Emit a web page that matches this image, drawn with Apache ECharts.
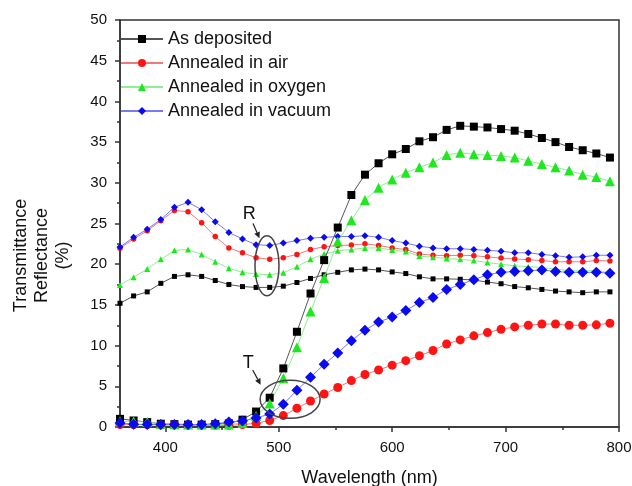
<!DOCTYPE html>
<html>
<head>
<meta charset="utf-8">
<script src="https://cdn.jsdelivr.net/npm/echarts@6/dist/echarts.min.js"></script>
<style>
  html, body { margin: 0; padding: 0; background: #fff; }
  #chart { width: 632px; height: 486px; }
</style>
</head>
<body>
<div id="chart"></div>
<script>
// wavelength (nm), one point every 12 nm
const wavelengths = [360, 372, 384, 396, 408, 420, 432, 444, 456, 468, 480, 492, 504, 516, 528, 540, 552, 564, 576,
  588, 600, 612, 624, 636, 648, 660, 672, 684, 696, 708, 720, 732, 744, 756, 768, 780, 792]

const seriesNames = ['As deposited', 'Annealed in air', 'Annealed in oxygen', 'Annealed in vacuum']

// transmittance (%)
const tDeposited = [1.0, 0.8, 0.6, 0.4, 0.35, 0.3, 0.3, 0.35, 0.45, 0.9, 1.9, 3.6, 7.2, 11.7, 16.4, 20.5, 24.5, 28.5, 31.0,
  32.4, 33.5, 34.15, 35.1, 35.6, 36.5, 37.0, 36.9, 36.8, 36.6, 36.4, 36.0, 35.5, 35.0, 34.4, 34.0, 33.6, 33.1]
const tAir = [0.3, 0.3, 0.3, 0.25, 0.25, 0.2, 0.2, 0.2, 0.2, 0.3, 0.45, 0.8, 1.4, 2.3, 3.2, 4.05, 4.85, 5.7, 6.45,
  7.0, 7.6, 8.15, 8.75, 9.4, 10.2, 10.7, 11.2, 11.6, 12.0, 12.3, 12.5, 12.65, 12.65, 12.5, 12.5, 12.55, 12.75]
const tOxygen = [0.7, 0.7, 0.6, 0.4, 0.35, 0.3, 0.3, 0.3, 0.3, 0.5, 1.35, 2.9, 6.0, 9.8, 14.2, 18.3, 22.8, 25.4, 27.9,
  29.4, 30.4, 31.25, 31.9, 32.5, 33.4, 33.7, 33.5, 33.4, 33.3, 33.1, 32.7, 32.3, 31.9, 31.5, 31.0, 30.7, 30.2]
const tVacuum = [0.5, 0.35, 0.3, 0.3, 0.3, 0.3, 0.3, 0.4, 0.6, 0.75, 1.1, 1.6, 2.8, 4.5, 6.1, 7.7, 9.1, 10.6, 11.9,
  12.9, 13.5, 14.3, 15.3, 15.9, 16.9, 17.5, 18.1, 18.7, 19.0, 19.1, 19.2, 19.3, 19.1, 19.0, 19.0, 19.0, 18.9]

// reflectance (%)
const rDeposited = [15.2, 16.1, 16.6, 17.65, 18.5, 18.7, 18.5, 18.0, 17.5, 17.25, 17.15, 17.15, 17.3, 17.75, 18.25, 18.7, 19.0, 19.3,
  19.4, 19.3, 19.05, 18.85, 18.45, 18.2, 18.2, 18.15, 18.05, 17.8, 17.6, 17.25, 17.1, 16.9, 16.7, 16.6, 16.5, 16.6, 16.6]
const rAir = [21.95, 23.1, 24.1, 25.35, 26.6, 26.45, 25.1, 23.4, 22.0, 21.4, 20.8, 20.6, 20.8, 21.2, 21.8, 22.15, 22.3, 22.35,
  22.5, 22.3, 22.0, 21.8, 21.25, 21.1, 21.05, 21.1, 21.05, 20.9, 20.75, 20.65, 20.55, 20.45, 20.3, 20.3, 20.3, 20.45, 20.4]
const rOxygen = [17.45, 18.4, 19.4, 20.6, 21.7, 21.8, 21.2, 20.3, 19.5, 19.0, 18.8, 18.7, 18.95, 19.7, 20.6, 21.25, 21.65, 21.8,
  22.0, 22.0, 21.75, 21.55, 21.0, 20.85, 20.7, 20.6, 20.45, 20.2, 20.0, 19.8, 19.7, 19.6, 19.4, 19.2, 19.2, 19.2, 18.95]
const rVacuum = [22.1, 23.3, 24.3, 25.5, 27.0, 27.6, 26.7, 25.2, 23.9, 23.1, 22.4, 22.3, 22.6, 22.9, 23.2, 23.3, 23.4, 23.4,
  23.5, 23.3, 22.9, 22.6, 22.2, 22.0, 21.9, 21.9, 21.8, 21.7, 21.6, 21.4, 21.4, 21.2, 21.05, 20.85, 20.9, 21.1, 21.1]

const xTickValues = [400, 500, 600, 700, 800]
const xMinorTickValues = [450, 550, 650, 750]

const font = 'Arial, "Liberation Sans", sans-serif'
const markerColors = ['#000000', '#ff1414', '#1ee81e', '#0a0af0']
const lineColors = ['#555555', '#f07a7a', '#8eef8e', '#7a7af5']
const symbols = ['rect', 'circle', 'triangle', 'diamond']
const bigSizes = [8, 9, 10, 11]
const smallSizes = [5, 5.5, 6, 7]

const chart = echarts.init(document.getElementById('chart'))

const toPairs = ys => wavelengths.map((x, i) => [x, ys[i]])

function makeSeries (idx, values, big) {
  return {
    name: seriesNames[idx],
    type: 'line',
    data: toPairs(values),
    symbol: symbols[idx],
    symbolSize: big ? bigSizes[idx] : smallSizes[idx],
    z: big ? 3 : 2,
    itemStyle: { color: markerColors[idx] },
    lineStyle: { color: lineColors[idx], width: 1 },
    emphasis: { disabled: true }
  }
}

const axisColor = '#333'

const option = {
  animation: false,
  backgroundColor: '#ffffff',
  grid: {
    left: 120,
    right: 13,
    top: 20,
    bottom: 59,
    outerBoundsMode: 'none',
    show: true,
    borderColor: axisColor,
    borderWidth: 1.5,
    backgroundColor: 'transparent'
  },
  legend: {
    data: seriesNames,
    orient: 'vertical',
    left: 120,
    top: 30,
    padding: 0,
    itemWidth: 42,
    itemHeight: 10,
    itemGap: 6,
    textStyle: { fontSize: 18, color: '#111', fontFamily: font }
  },
  xAxis: [
    {
      type: 'value',
      min: 360,
      max: 800,
      name: 'Wavelength (nm)',
      nameLocation: 'middle',
      nameGap: 42,
      nameTextStyle: { fontSize: 18, color: '#111', fontFamily: font },
      axisLine: { lineStyle: { color: axisColor, width: 1.5 } },
      axisTick: { customValues: xTickValues, length: 5, lineStyle: { color: axisColor, width: 1.5 } },
      axisLabel: { customValues: xTickValues, fontSize: 15, color: '#111', fontFamily: font, margin: 13 },
      splitLine: { show: false }
    },
    {
      type: 'value',
      min: 360,
      max: 800,
      position: 'bottom',
      axisLine: { show: false },
      axisTick: { customValues: xMinorTickValues, length: 3, lineStyle: { color: axisColor, width: 1.5 } },
      axisLabel: { show: false },
      splitLine: { show: false }
    }
  ],
  yAxis: {
    type: 'value',
    min: 0,
    max: 50,
    interval: 5,
    name: 'Transmittance\nReflectance\n(%)',
    nameLocation: 'middle',
    nameRotate: 90,
    nameGap: 46,
    nameTextStyle: { fontSize: 18, color: '#111', fontFamily: font, lineHeight: 21, align: 'center', padding: [0, 64, 0, 0] },
    axisLine: { lineStyle: { color: axisColor, width: 1.5 } },
    axisTick: { length: 5, lineStyle: { color: axisColor, width: 1.5 } },
    minorTick: { show: true, splitNumber: 2, length: 3, lineStyle: { color: axisColor, width: 1.5 } },
    axisLabel: { fontSize: 15, color: '#111', fontFamily: font, margin: 13 },
    splitLine: { show: false }
  },
  series: [
    makeSeries(0, tDeposited, true),
    makeSeries(1, tAir, true),
    makeSeries(2, tOxygen, true),
    makeSeries(3, tVacuum, true),
    makeSeries(0, rDeposited, false),
    makeSeries(1, rAir, false),
    makeSeries(2, rOxygen, false),
    makeSeries(3, rVacuum, false)
  ]
}

chart.setOption(option)

// annotation marks, placed in data space (wavelength, %)
const rLabelAt = [474, 26.2]
const rArrow = [[477.3, 25.0], [483, 23.2]]
const rEllipseAt = [489.6, 19.8]
const tLabelAt = [473, 7.9]
const tArrow = [[477, 7.0], [484, 5.2]]
const tEllipseAt = [510, 3.4]

const px = p => chart.convertToPixel({ seriesIndex: 0 }, p)

function arrowGraphics (from, to) {
  const a = px(from)
  const b = px(to)
  const ang = Math.atan2(b[1] - a[1], b[0] - a[0])
  const len = 6
  const w = 3
  const bx = b[0] - len * Math.cos(ang)
  const by = b[1] - len * Math.sin(ang)
  return [
    { type: 'line', shape: { x1: a[0], y1: a[1], x2: bx, y2: by }, style: { stroke: '#222', lineWidth: 1.2 } },
    {
      type: 'polygon',
      shape: {
        points: [b, [bx + w * Math.sin(ang), by - w * Math.cos(ang)], [bx - w * Math.sin(ang), by + w * Math.cos(ang)]]
      },
      style: { fill: '#222' }
    }
  ]
}

const rC = px(rEllipseAt)
const tC = px(tEllipseAt)
const rL = px(rLabelAt)
const tL = px(tLabelAt)

chart.setOption({
  graphic: [
    { type: 'ellipse', shape: { cx: rC[0], cy: rC[1], rx: 12, ry: 30 }, style: { fill: 'none', stroke: '#444', lineWidth: 1.5 }, z: 10 },
    { type: 'ellipse', shape: { cx: tC[0], cy: tC[1], rx: 30, ry: 19 }, style: { fill: 'none', stroke: '#444', lineWidth: 1.5 }, z: 10 },
    { type: 'text', x: rL[0], y: rL[1], style: { text: 'R', fontSize: 18, fill: '#111', fontFamily: font, align: 'center', verticalAlign: 'middle' }, z: 10 },
    { type: 'text', x: tL[0], y: tL[1], style: { text: 'T', fontSize: 18, fill: '#111', fontFamily: font, align: 'center', verticalAlign: 'middle' }, z: 10 },
    ...arrowGraphics(rArrow[0], rArrow[1]),
    ...arrowGraphics(tArrow[0], tArrow[1])
  ]
})
</script>
</body>
</html>
